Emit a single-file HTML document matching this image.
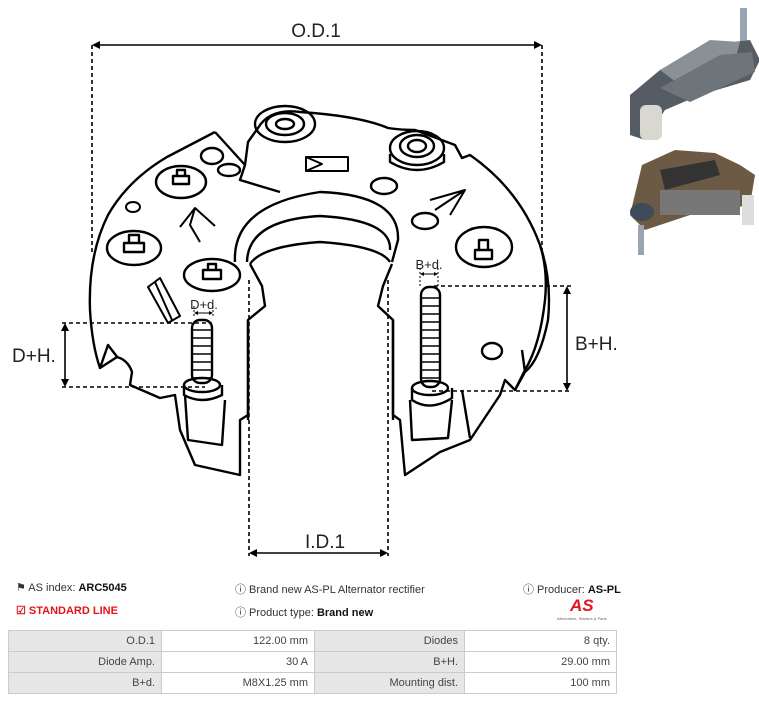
<!DOCTYPE html>
<html><head><meta charset="utf-8"><style>
body{margin:0;width:759px;height:705px;background:#fff;font-family:"Liberation Sans",sans-serif;overflow:hidden;position:relative}
.t{position:absolute;font-size:11px;color:#333;white-space:nowrap}
b{color:#111}
table{position:absolute;left:8px;top:630px;border-collapse:collapse;font-size:11px;color:#444}
td{height:21px;border:1px solid #ccc;text-align:right;padding:0 6px 0 0;box-sizing:border-box}
td.l{background:#e6e6e6}
</style></head><body>
<svg width="759" height="580" style="position:absolute;left:0;top:0" fill="none" stroke="#000" stroke-width="2.4" stroke-linejoin="round" font-family="Liberation Sans,sans-serif">
<!-- dimension lines -->
<g stroke-width="1.6" stroke-dasharray="4,3">
<line x1="92" y1="45" x2="92" y2="255"/><line x1="542" y1="45" x2="542" y2="250"/>
<line x1="249" y1="280" x2="249" y2="556"/><line x1="388" y1="280" x2="388" y2="556"/>
<line x1="62" y1="323" x2="212" y2="323"/><line x1="62" y1="387" x2="205" y2="387"/>
<line x1="434" y1="286" x2="572" y2="286"/><line x1="432" y1="391" x2="572" y2="391"/>
<line x1="194" y1="306" x2="194" y2="318" stroke-width="1" stroke-dasharray="2,2"/><line x1="213" y1="306" x2="213" y2="318" stroke-width="1" stroke-dasharray="2,2"/>
<line x1="420" y1="268" x2="420" y2="286" stroke-width="1" stroke-dasharray="2,2"/><line x1="438" y1="268" x2="438" y2="286" stroke-width="1" stroke-dasharray="2,2"/>
</g>
<g stroke-width="1.6">
<line x1="98" y1="45" x2="536" y2="45"/><line x1="65" y1="329" x2="65" y2="381"/><line x1="567" y1="292" x2="567" y2="385"/>
<line x1="255" y1="553" x2="382" y2="553"/>
<line x1="197" y1="313" x2="210" y2="313" stroke-width="1"/><line x1="423" y1="274" x2="435" y2="274" stroke-width="1"/>
</g>
<g fill="#000" stroke="none">
<path d="M92 45l8-4v8z"/><path d="M542 45l-8-4v8z"/>
<path d="M65 323l-4 8h8z"/><path d="M65 387l-4-8h8z"/>
<path d="M567 286l-4 8h8z"/><path d="M567 391l-4-8h8z"/>
<path d="M249 553l8-4v8z"/><path d="M388 553l-8-4v8z"/>
<path d="M194 313l4-2v4z"/><path d="M213 313l-4-2v4z"/><path d="M420 274l4-2v4z"/><path d="M438 274l-4-2v4z"/>
</g>
<g fill="#222" stroke="none" font-size="19">
<text x="316" y="37" text-anchor="middle">O.D.1</text>
<text x="325" y="548" text-anchor="middle">I.D.1</text>
<text x="12" y="362">D+H.</text>
<text x="575" y="350">B+H.</text>
<text x="204" y="309" text-anchor="middle" font-size="13">D+d.</text>
<text x="429" y="269" text-anchor="middle" font-size="13">B+d.</text>
</g>
<!-- body outer -->
<path d="M215 132 L167 157 Q128 180 108 215 Q88 255 90 310 Q92 345 100 368 L117 357 Q128 360 132 372 L130 385 L160 398 L175 395 L180 430 L195 465 L240 475 L240 420 L248 415 L248 320 L265 306 L262 286 L250 264"/>
<path d="M100 368 L108 345 L118 358"/>
<path d="M215 132 L245 165 L240 180 L280 192"/>
<path d="M245 165 L248 142 L258 128 Q270 108 300 112 Q360 116 388 128 Q400 130 415 130 L455 145 L462 158 L470 155 Q520 190 540 245 Q548 270 545 300 Q540 345 525 370 L515 390 L505 380 L500 395 L470 440 L440 452 L405 475 L400 420 L393 415 L393 320 L378 306 L383 286 L392 264"/>
<path d="M540 245 Q552 280 548 320 Q540 360 525 372"/>
<path d="M515 390 L525 372 L522 350"/>
<!-- central arch -->
<path d="M235 262 Q232 205 320 192 Q400 195 398 240 L392 262"/>
<path d="M247 262 Q248 220 320 216 Q392 220 390 250"/>
<path d="M250 264 Q262 246 320 242 Q380 246 390 262"/>
<path d="M248 320 L248 420 M393 320 L393 420"/>
<!-- mounts -->
<ellipse cx="285" cy="124" rx="30" ry="18"/><ellipse cx="285" cy="124" rx="19" ry="11"/><ellipse cx="285" cy="124" rx="9" ry="5"/>
<ellipse cx="417" cy="148" rx="27" ry="17"/><ellipse cx="417" cy="146" rx="17" ry="11"/><ellipse cx="417" cy="146" rx="9" ry="6"/>
<path d="M390 154 v8 Q417 178 444 162 v-8"/>
<!-- holes and diodes -->
<ellipse cx="212" cy="156" rx="11" ry="8"/><ellipse cx="229" cy="170" rx="11" ry="6"/>
<ellipse cx="133" cy="207" rx="7" ry="5" stroke-width="2"/>
<ellipse cx="181" cy="182" rx="25" ry="16"/><rect x="173" y="176" width="16" height="8"/><path d="M177 176v-6h8v6"/>
<ellipse cx="134" cy="248" rx="27" ry="17"/><rect x="124" y="243" width="20" height="9"/><path d="M129 243v-8h10v8"/>
<ellipse cx="212" cy="275" rx="28" ry="16"/><rect x="203" y="270" width="18" height="9"/><path d="M208 270v-6h8v6"/>
<path d="M180 227 L195 208 L215 226 M195 208 L190 225 L200 242" stroke-width="2"/>
<path d="M148 287 L160 278 L180 316 L168 323 Z M155 282 L172 320" stroke-width="2"/>
<rect x="306" y="157" width="42" height="14" stroke-width="2"/><path d="M306 157 L322 164 L306 171" stroke-width="2"/>
<ellipse cx="384" cy="186" rx="13" ry="8"/><ellipse cx="425" cy="221" rx="13" ry="8"/>
<path d="M430 200 L465 190 L450 215 M465 190 L435 210" stroke-width="2"/>
<ellipse cx="484" cy="247" rx="28" ry="20"/><rect x="475" y="250" width="17" height="9"/><path d="M479 250v-10h9v10"/>
<ellipse cx="492" cy="351" rx="10" ry="8"/>
<!-- bolts -->
<ellipse cx="202" cy="385" rx="18" ry="7"/><path d="M184 385 v10 Q202 405 222 395 v-10"/>
<rect x="192" y="320" width="20" height="63" rx="8"/>
<g stroke-width="1.6"><path d="M192 330h20M192 338h20M192 346h20M192 354h20M192 362h20M192 370h20M192 378h20"/></g>
<ellipse cx="430" cy="388" rx="18" ry="7"/><path d="M412 388 v12 Q430 412 452 398 v-10"/>
<rect x="421" y="287" width="19" height="100" rx="8"/>
<g stroke-width="1.6"><path d="M421 298h19M421 306h19M421 314h19M421 322h19M421 330h19M421 338h19M421 346h19M421 354h19M421 362h19M421 370h19M421 378h19"/></g>
<path d="M185 395 L188 440 L222 445 L225 400 M410 400 L412 440 L448 438 L452 400 M462 390 L470 438"/>
</svg>
<!-- photos -->
<svg width="140" height="260" style="position:absolute;left:620px;top:0">
<rect x="120" y="8" width="7" height="35" fill="#9aa4b0"/>
<path d="M10 95 L40 70 L90 45 L130 40 L140 60 L130 80 L80 95 L45 110 L25 140 L10 135 Z" fill="#555c63"/>
<path d="M40 70 L90 40 L120 42 L115 60 L60 85 Z" fill="#8a9096"/>
<path d="M40 88 L100 55 L132 52 L135 72 L70 102 Z" fill="#6d747a"/>
<rect x="20" y="105" width="22" height="35" rx="6" fill="#d8d8d0"/>
<path d="M22 165 L55 150 L95 153 L120 165 L135 175 L130 205 L70 215 L25 230 L10 215 Z" fill="#6d5a44"/>
<path d="M40 170 L95 160 L100 175 L45 190 Z" fill="#333"/>
<rect x="40" y="190" width="80" height="25" fill="#777"/>
<ellipse cx="22" cy="212" rx="12" ry="9" fill="#3e4b5a"/>
<rect x="18" y="225" width="6" height="30" fill="#9aa4b0"/>
<rect x="122" y="195" width="12" height="30" fill="#ddd"/>
</svg>
<!-- info -->
<div class="t" style="left:16px;top:581px">&#9873; AS index: <b>ARC5045</b></div>
<div class="t" style="left:16px;top:604px;color:#e0151b;font-weight:bold">&#9745; STANDARD LINE</div>
<div class="t" style="left:235px;top:581px">&#9432; Brand new AS-PL Alternator rectifier</div>
<div class="t" style="left:235px;top:604px">&#9432; Product type: <b>Brand new</b></div>
<div class="t" style="left:523px;top:581px">&#9432; Producer: <b>AS-PL</b></div>
<div class="t" style="left:570px;top:596px;color:#e0151b;font-weight:bold;font-style:italic;font-size:17px">AS</div>
<div class="t" style="left:557px;top:616px;font-size:4px;color:#666">Alternators, Starters &amp; Parts</div>
<table>
<tr><td class="l" style="width:153px">O.D.1</td><td style="width:153px">122.00 mm</td><td class="l" style="width:150px">Diodes</td><td style="width:152px">8 qty.</td></tr>
<tr><td class="l">Diode Amp.</td><td>30 A</td><td class="l">B+H.</td><td>29.00 mm</td></tr>
<tr><td class="l">B+d.</td><td>M8X1.25 mm</td><td class="l">Mounting dist.</td><td>100 mm</td></tr>
</table>
</body></html>
